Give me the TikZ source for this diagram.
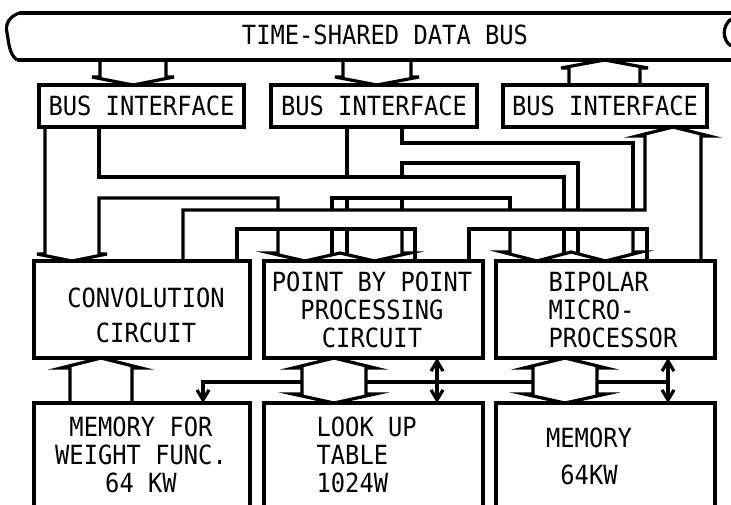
\documentclass[tikz,border=0pt]{standalone}
\usepackage{fontspec}
\newfontfamily\lett[FakeStretch=0.9]{DejaVu Sans Mono}
\usetikzlibrary{arrows.meta}

\begin{document}
\begin{tikzpicture}[x=0.5pt,y=-0.5pt,
                    line width=1.6pt,line join=miter,
                    >={Straight Barb[length=5pt,width=6pt]},
                    box/.style={draw,line width=1.8pt,anchor=north west,inner sep=0pt,outer sep=0pt},
                    lbl/.style={font={\lett\fontsize{13.2pt}{14pt}\selectfont},inner sep=0pt,align=center}
                ]

                \useasboundingbox (0,0) rectangle (731,504);
                \clip (0,0) rectangle (731,504);
                \fill[white] (0,0) rectangle (731,504);

                % The bus
                \draw (19,13) -- (731,13);
                \draw (17,60) -- (731,60);
                \draw (19,13) .. controls (9,17) and (5,24) .. (7,33) .. controls (9,43) and (9,54) .. (17,60);
                \draw (731,19) .. controls (722,26) and (722,40) .. (731,46);
                \node[lbl] (bustxt) at (385,35) {TIME-SHARED DATA BUS};

                % The boxes
                \node[box,lbl,minimum width=102.5pt,minimum height=21pt] (bi1) at (39,85) {BUS INTERFACE};
                \node[box,lbl,minimum width=103pt,minimum height=21pt] (bi2) at (271,85) {BUS INTERFACE};
                \node[box,lbl,minimum width=102pt,minimum height=21pt] (bi3) at (503,85) {BUS INTERFACE};

                \node[box,minimum width=108pt,minimum height=48.5pt] (conv) at (34,261) {};
                \node[box,minimum width=109.5pt,minimum height=48.5pt] (point) at (264,261) {};
                \node[box,minimum width=109.5pt,minimum height=48.5pt] (bipolar) at (496,261) {};

                \node[box,minimum width=108pt,minimum height=60pt] (memw) at (34,403) {};
                \node[box,minimum width=109.5pt,minimum height=60pt] (lut) at (264,403) {};
                \node[box,minimum width=109.5pt,minimum height=60pt] (mem) at (496,403) {};

                % Bus to interfaces
                \draw (100,60) -- (100,77) -- (92,77) -- (133,0 |- bi1.north) -- (174,77) -- (166,77) -- (166,60);
                \draw (343,60) -- (343,77) -- (335,77) -- (377,0 |- bi2.north) -- (419,77) -- (411,77) -- (411,60);
                \draw (569,0 |- bi3.north) -- (569,68) -- (561,68) -- (604.5,60) -- (648,68) -- (640,68) -- (640,0 |- bi3.north);

                % Interfaces to the processors
                \draw (45,0 |- bi1.south) -- (45,254) -- (37,254) -- (72,0 |- conv.north) -- (107,254) -- (99,254) -- (99,198) -- (278,198) -- (278,210);
                \draw (99,0 |- bi1.south) -- (99,177) -- (564,177) -- (564,210);
                \draw (332,210) -- (332,198) -- (510,198) -- (510,210);
                \draw (347,0 |- bi2.south) -- (347,177);
                \draw (402,0 |- bi2.south) -- (402,143) -- (633,143) -- (633,210);
                \draw (402,177) -- (402,163) -- (578,163) -- (578,210);
                \draw (347,198) -- (347,210) (402,198) -- (402,210);

                % Processors to the third interface
                \draw (183,0 |- conv.north) -- (183,210) -- (645,210) -- (645,136) -- (637,136) -- (673,0 |- bi3.south) -- (709,136) -- (701,136) -- (701,0 |- bipolar.north);
                \draw (237,0 |- conv.north) -- (237,229) -- (415,229) -- (415,0 |- point.north);
                \draw (469,0 |- point.north) -- (469,229) -- (647,229) -- (647,0 |- bipolar.north);

                % Double heads into the processors
                \draw (278,229) -- (278,253) -- (270,253) -- (305,0 |- point.north) -- (340,253) -- (374.5,0 |- point.north) -- (410,253) -- (402,253) -- (402,229);
                \draw (332,229) -- (332,254.5) (347,229) -- (347,254.5);
                \draw (510,229) -- (510,252) -- (502,252) -- (537,0 |- bipolar.north) -- (571,252) -- (605.5,0 |- bipolar.north) -- (641,252) -- (633,252) -- (633,229);
                \draw (564,229) -- (564,253.5) (578,229) -- (578,253.5);

                % Memories
                \draw (70,0 |- memw.north) -- (70,368) -- (61,368) -- (101,0 |- conv.south) -- (141,368) -- (132,368) -- (132,0 |- memw.north);
                \draw (302,368) -- (293,368) -- (334,0 |- point.south) -- (375,368) -- (366,368) -- (366,394) -- (375,394) -- (334,0 |- lut.north) -- (293,394) -- (302,394) -- cycle;
                \draw (533,368) -- (524,368) -- (565,0 |- bipolar.south) -- (606,368) -- (597,368) -- (597,394) -- (606,394) -- (565,0 |- mem.north) -- (524,394) -- (533,394) -- cycle;

                \draw[->] (302,382) -- (203,382) -- (203,0 |- memw.north);
                \draw (366,382) -- (533,382);
                \draw (597,382) -- (668,382);
                \draw[<->] (437,0 |- point.south) -- (437,0 |- lut.north);
                \draw[<->] (668,0 |- bipolar.south) -- (668,0 |- mem.north);

                % The labels
                \node[lbl] (convtxt) at (146,315.5) {CONVOLUTION\\[3.5pt]CIRCUIT};
                \node[lbl] (pointtxt) at (372,310) {POINT BY POINT\\PROCESSING\\CIRCUIT};
                \node[lbl,align=left,anchor=west] (biptxt) at (547,310) {BIPOLAR\\MICRO-\\PROCESSOR};
                \node[lbl] (memwtxt) at (141,455) {MEMORY FOR\\WEIGHT FUNC.\\64 KW};
                \node[lbl,align=left,anchor=west] (luttxt) at (315,455) {LOOK UP\\TABLE\\1024W};
                \node[lbl] (memtxt) at (589,456.5) {MEMORY\\[4.5pt]64KW};
            \end{tikzpicture}
\end{document}
